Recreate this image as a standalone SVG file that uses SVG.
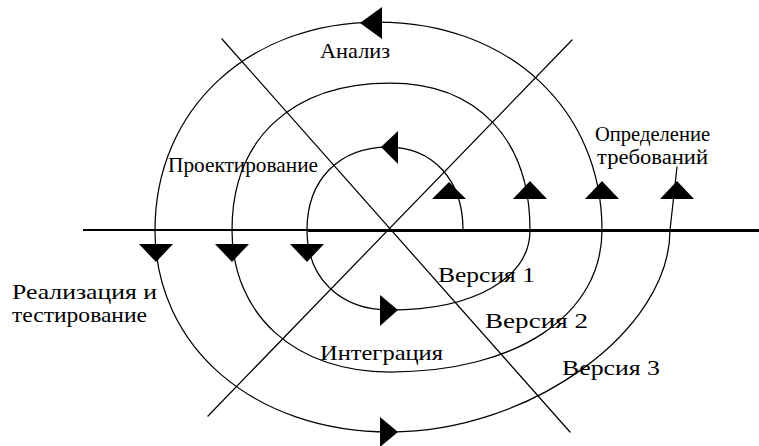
<svg xmlns="http://www.w3.org/2000/svg" width="759" height="446" viewBox="0 0 759 446">
<style>
.ln{fill:none;stroke:#000;stroke-width:1.25;stroke-linecap:round;stroke-linejoin:round}
.ax{fill:none;stroke:#000;stroke-width:2}
.ar{fill:#000;stroke:none}
.t{font-family:"Liberation Serif","DejaVu Serif","Times New Roman",serif;font-size:22px;fill:#000}
.s{font-size:20px}
</style>
<rect width="759" height="446" fill="#fff"/>
<g id="axis">
<line class="ax" x1="83" y1="230" x2="759" y2="230"/>
<line x1="308" y1="230.5" x2="759" y2="230.5" stroke="#000" stroke-width="3"/>
</g>
<g id="connectors">
<line class="ln" x1="222" y1="39" x2="570" y2="432"/>
<line class="ln" x1="572" y1="40" x2="208" y2="416"/>
<path class="ln" d="M463,230 C463,180 433,147 388,147 C339,147 307,180 307,230
C307,278 340,310 390,310 C474,310 530,278 530,230
C530,139 477,83 390,83 C292,83 232,139 232,230
C232,315 295,372 390,372 C517,372 602,315 602,230
C602,109 508,22 378,22 C249,22 155,109 155,230
C155,347 254,432 390,432 C530,432 670,331 670,230
L677,167"/>
</g>
<g id="arrows">
<polygon class="ar" points="432,199 466,199 449,182"/>
<polygon class="ar" points="513,199 547,199 530,181"/>
<polygon class="ar" points="585,199 619,199 602,181"/>
<polygon class="ar" points="660,199 694,199 677,181"/>
<polygon class="ar" points="139,244 173,244 156,262"/>
<polygon class="ar" points="215,244 249,244 232,262"/>
<polygon class="ar" points="290,244 324,244 307,262"/>
<polygon class="ar" points="382,7 382,39 360,23"/>
<polygon class="ar" points="398,131 398,164 381,147"/>
<polygon class="ar" points="380,295 380,326 398,310"/>
<polygon class="ar" points="380,417 380,447 398,432"/>
</g>
<g id="label-analiz"><text class="t" x="320" y="58" textLength="70" lengthAdjust="spacingAndGlyphs">Анализ</text></g>
<g id="label-proekt"><text class="t" x="168" y="172" textLength="150" lengthAdjust="spacingAndGlyphs">Проектирование</text></g>
<g id="label-opred">
<text class="t s" x="595" y="141" textLength="115" lengthAdjust="spacingAndGlyphs">Определение</text>
<text class="t s" x="597" y="164" textLength="111" lengthAdjust="spacingAndGlyphs">требований</text>
</g>
<g id="label-real">
<text class="t" x="12" y="299" textLength="145" lengthAdjust="spacingAndGlyphs">Реализация и</text>
<text class="t" x="12" y="322" textLength="135" lengthAdjust="spacingAndGlyphs">тестирование</text>
</g>
<g id="label-integr"><text class="t" x="320" y="360" textLength="123" lengthAdjust="spacingAndGlyphs">Интеграция</text></g>
<g id="label-v1"><text class="t" x="438" y="282" textLength="97" lengthAdjust="spacingAndGlyphs">Версия 1</text></g>
<g id="label-v2"><text class="t" x="485" y="328" textLength="103" lengthAdjust="spacingAndGlyphs">Версия 2</text></g>
<g id="label-v3"><text class="t" x="562" y="375" textLength="98" lengthAdjust="spacingAndGlyphs">Версия 3</text></g>
</svg>
